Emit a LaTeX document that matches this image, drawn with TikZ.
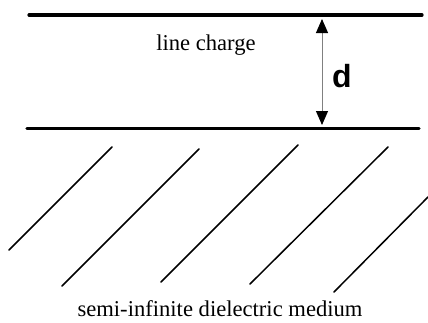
\documentclass[tikz,border=0pt]{standalone}
\usepackage{fontspec}
\setmainfont{Liberation Serif}
\setsansfont{Liberation Sans}
\usetikzlibrary{arrows.meta}

\begin{document}
\begin{tikzpicture}[x=1pt, y=-1pt, line cap=round, line join=round,
    plate/.style={line width=3.2pt},
    hatch/.style={line width=1.5pt},
    gap/.style={draw=gray, line width=1pt,
      {Triangle[length=14pt,width=12pt,color=black]}-{Triangle[length=14pt,width=12pt,color=black]}},
    every node/.style={font=\fontsize{22.6}{26}\selectfont, inner sep=0pt}]
    \useasboundingbox (0,0) rectangle (428,322);
    % the two plates
    \draw[plate] (29,15) coordinate (topl) -- (422,15) coordinate (topr);
    \draw[plate] (27,128.5) coordinate (botl) -- (419,128.5) coordinate (botr);
    \coordinate (gtop) at (322,19);
    \coordinate (gbot) at (322,125);
    \draw[gap] (gtop) -- (gbot);
    \node[anchor=base] (charge) at (206,50) {line charge};
    \node[font=\fontsize{32}{36}\selectfont\sffamily\bfseries] (dist) at (342,76) {d};
    % hatching of the medium
    \foreach \xa/\ya/\xb/\yb in {9/250/112/147, 62/286/199/149, 161/282/298/145, 250/284/388/147, 334/292/428/197}
      \draw[hatch] (\xa,\ya) -- (\xb,\yb);
    \node[anchor=base] (medium) at (220,316) {semi-infinite dielectric medium};
\end{tikzpicture}
\end{document}
